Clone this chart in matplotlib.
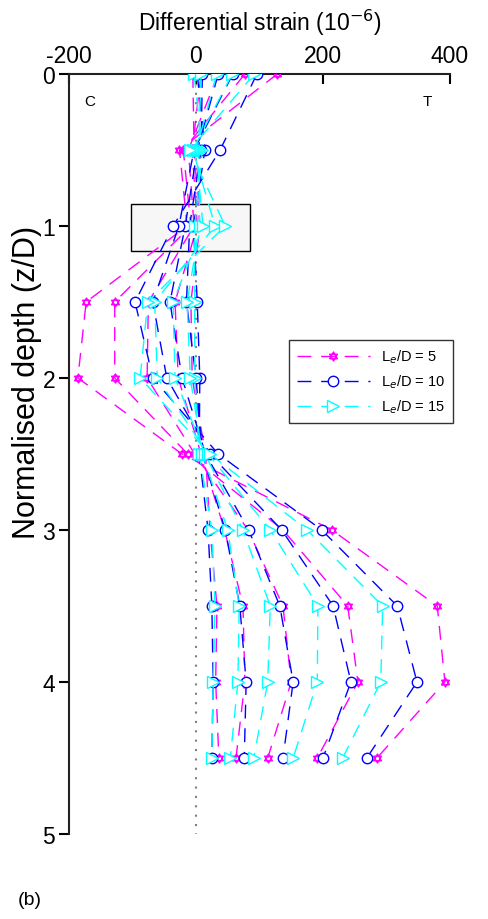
import numpy as np
import matplotlib
matplotlib.use('Agg')
import matplotlib.pyplot as plt
from matplotlib.path import Path
from matplotlib.patches import Rectangle

plt.rcParams['font.family'] = ['Liberation Sans', 'DejaVu Sans']
plt.rcParams['axes.unicode_minus'] = False

# normalised depth z/D
depth = [0, 0.5, 1.0, 1.5, 2.0, 2.5, 3.0, 3.5, 4.0, 4.5]

# differential strain (1e-6), five load levels per embedded length
le5 = [
    [-5, -3, 6, -8, -6, 15, 22, 33, 31, 36],
    [8, -6, 2, -33, -28, 8, 45, 74, 77, 63],
    [35, -12, -3, -75, -77, -2, 82, 137, 150, 113],
    [77, -20, -8, -128, -128, -13, 137, 239, 255, 191],
    [128, -26, -14, -173, -186, -22, 214, 380, 392, 285],
]
le10 = [
    [2, 14, -4, 2, 6, 5, 19, 25, 27, 25],
    [10, 8, -10, -15, 0, 10, 46, 69, 79, 76],
    [35, 2, -17, -41, -22, 15, 83, 132, 153, 137],
    [58, -3, -27, -68, -46, 22, 135, 216, 244, 200],
    [96, 38, -36, -96, -68, 35, 198, 317, 348, 269],
]
le15 = [
    [-3, 10, -2, -2, -2, 5, 25, 30, 27, 25],
    [8, 4, 6, -14, -9, 10, 50, 68, 66, 54],
    [33, 0, 11, -36, -33, 14, 74, 117, 113, 91],
    [57, -5, 30, -65, -61, 19, 117, 192, 191, 153],
    [92, -10, 46, -76, -88, 22, 175, 294, 291, 231],
]
labels = ['L$_e$/D = 5', 'L$_e$/D = 10', 'L$_e$/D = 15']

# six pointed star marker (two triangles)
tri = [(0, 1), (0.866, -0.5), (-0.866, -0.5), (0, 1),
       (0, -1), (0.866, 0.5), (-0.866, 0.5), (0, -1)]
codes = [Path.MOVETO, Path.LINETO, Path.LINETO, Path.CLOSEPOLY] * 2
star = Path(tri, codes)

fig = plt.figure(figsize=(4.88, 9.2), dpi=100)
ax = fig.add_axes([0.1414, 0.0924, 0.7807, 0.8261])

styles = [(le5, '#ff00ff', star, 6.5), (le10, '#0000ff', 'o', 7.5), (le15, '#00ffff', '>', 8)]
for (series, c, m, ms), lab in zip(styles, labels):
    for k, vals in enumerate(series):
        ax.plot(vals, depth, color=c, lw=1, dashes=(10, 7), marker=m, ms=ms,
                mfc='white', mec=c, mew=1, label=lab if k == 0 else None, zorder=3)

ax.plot([0, 0], [0, 5], color='grey', ls=(0, (1, 3.5)), lw=1.5, zorder=1)
ax.add_patch(Rectangle((-102, 0.855), 187, 0.31, facecolor='#f7f7f7',
                       edgecolor='black', lw=1, zorder=0.5))

ax.text(-167, 0.18, 'C', fontsize=11, ha='center', va='center')
ax.text(365, 0.18, 'T', fontsize=11, ha='center', va='center')

ax.set_xlim(-200, 400)
ax.set_ylim(5, 0)
ax.xaxis.set_ticks_position('top')
ax.xaxis.set_label_position('top')
ax.set_xticks([-200, 0, 200, 400])
ax.set_yticks([0, 1, 2, 3, 4, 5])
ax.tick_params(axis='x', direction='in', length=7, width=1.5, labelsize=16.5, pad=5)
ax.tick_params(axis='y', direction='out', length=7, width=1.5, labelsize=16.5, pad=3)
ax.set_xlabel('Differential strain (10$^{-6}$)', fontsize=16.5, labelpad=10)
ax.set_ylabel('Normalised depth (z/D)', fontsize=22)
ax.yaxis.set_label_coords(-0.07, 0.596)
for s in ['right', 'bottom']:
    ax.spines[s].set_visible(False)
for s in ['left', 'top']:
    ax.spines[s].set_linewidth(1.5)
    ax.spines[s].set_color('#222222')

leg = ax.legend(loc='upper right', bbox_to_anchor=(1.026, 0.659), fontsize=10.5,
                frameon=True, fancybox=False, edgecolor='black', handlelength=5,
                borderpad=0.5, labelspacing=0.5)
leg.get_frame().set_linewidth(1)

fig.text(0.037, 0.016, '(b)', fontsize=14, va='baseline')

fig.savefig('out.png', dpi=100)
